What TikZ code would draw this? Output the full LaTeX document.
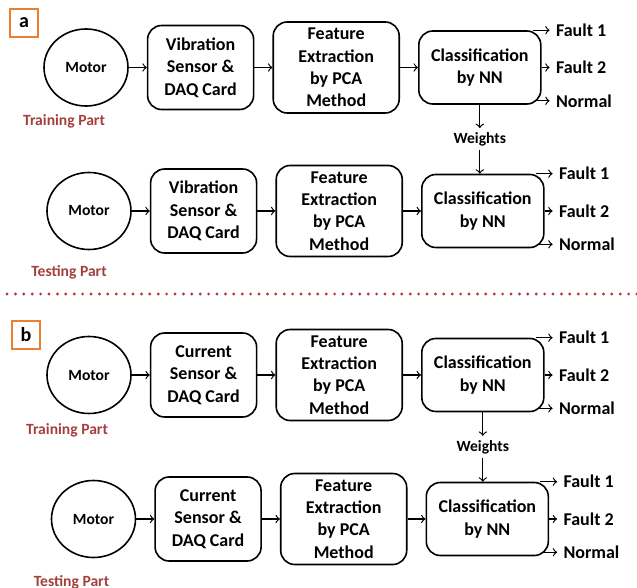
\documentclass[tikz,border=0pt]{standalone}
\usepackage{fontspec}
\setmainfont{Carlito}
\usepackage{xcolor}
\usetikzlibrary{shapes,arrows,positioning,calc}

\definecolor{partred}{HTML}{A3403D}
\definecolor{dotred}{HTML}{B03C3C}
\definecolor{tagorange}{HTML}{ED7D31}

\begin{document}
\begin{tikzpicture}[
        x=0.5pt, y=-0.5pt,
        node distance=9pt,
        font=\bfseries\fontsize{9}{11.2}\selectfont,
        motor/.style={ellipse, draw, line width=0.8pt, minimum width=42pt, minimum height=38.5pt, inner sep=0pt, font=\bfseries\fontsize{7.8}{9}\selectfont},
        block/.style={rectangle, draw, rounded corners=7pt, line width=0.8pt, minimum width=53pt, minimum height=42pt, align=center, inner sep=2pt},
        extract/.style={block, minimum width=63pt, minimum height=45.5pt},
        classify/.style={block, minimum width=61pt, minimum height=36.5pt},
        outlabel/.style={anchor=west, inner sep=3pt},
        weight/.style={font=\bfseries\fontsize{7.8}{9}\selectfont, inner sep=2pt},
        part/.style={text=partred, font=\bfseries\fontsize{7.8}{9}\selectfont},
        tag/.style={draw=tagorange, line width=1pt, minimum size=14pt, inner sep=0pt, font=\bfseries\fontsize{10}{12}\selectfont},
        arrow/.style={draw, -to, line width=0.6pt},
        sepline/.style={draw=dotred, line width=1.6pt, line cap=round, dash pattern=on 0pt off 4.2pt}
    ]

    \useasboundingbox (0,0) rectangle (637,588);

    % Panel a
    \node [tag] (taga) at (24,23) {a};

    % Training part (vibration)
    \node [motor] (motora) at (86,67.5) {Motor};
    \node [block, right=of motora] (sensa) {Vibration\\Sensor \&\\DAQ Card};
    \node [extract, right=of sensa] (feata) {Feature\\Extraction\\by PCA\\Method};
    \node [classify, right=of feata] (clsa) {Classification\\by NN};
    \node [part] (traina) at ([xshift=-11pt,yshift=-7.5pt]motora.south) {Training Part};
    \node [outlabel] (faulta1) at ([xshift=4pt]clsa.north east) {Fault 1};
    \node [outlabel] (faulta2) at ([xshift=4pt]clsa.east) {Fault 2};
    \node [outlabel] (normala) at ([xshift=4pt,yshift=2pt]clsa.south east) {Normal};

    % Testing part (vibration)
    \node [motor] (motorb) at (89,211) {Motor};
    \node [block, right=of motorb] (sensb) {Vibration\\Sensor \&\\DAQ Card};
    \node [extract, right=of sensb] (featb) {Feature\\Extraction\\by PCA\\Method};
    \node [classify, right=of featb] (clsb) {Classification\\by NN};
    \node [part] (testa) at ([xshift=-10pt,yshift=-11pt]motorb.south) {Testing Part};
    \node [outlabel] (faultb1) at ([xshift=4pt]clsb.north east) {Fault 1};
    \node [outlabel] (faultb2) at ([xshift=4pt]clsb.east) {Fault 2};
    \node [outlabel] (normalb) at ([xshift=4pt,yshift=2pt]clsb.south east) {Normal};

    \node [weight] (wgta) at ($(clsa.south)!0.5!(clsa.south |- clsb.north)$) {Weights};

    % Separator
    \coordinate (sepl) at (7,294);
    \coordinate (sepr) at (637,294);
    \path [sepline] (sepl) -- (sepr);

    % Panel b
    \node [tag] (tagb) at (26,335) {b};

    % Training part (current)
    \node [motor] (motorc) at (89,375) {Motor};
    \node [block, right=of motorc] (sensc) {Current\\Sensor \&\\DAQ Card};
    \node [extract, right=of sensc] (featc) {Feature\\Extraction\\by PCA\\Method};
    \node [classify, right=of featc] (clsc) {Classification\\by NN};
    \node [part] (trainb) at ([xshift=-11pt,yshift=-8pt]motorc.south) {Training Part};
    \node [outlabel] (faultc1) at ([xshift=4pt]clsc.north east) {Fault 1};
    \node [outlabel] (faultc2) at ([xshift=4pt]clsc.east) {Fault 2};
    \node [outlabel] (normalc) at ([xshift=4pt,yshift=2pt]clsc.south east) {Normal};

    % Testing part (current)
    \node [motor] (motord) at (93.5,519) {Motor};
    \node [block, right=of motord] (sensd) {Current\\Sensor \&\\DAQ Card};
    \node [extract, right=of sensd] (featd) {Feature\\Extraction\\by PCA\\Method};
    \node [classify, right=of featd] (clsd) {Classification\\by NN};
    \node [part] (testb) at ([xshift=-11pt,yshift=-12pt]motord.south) {Testing Part};
    \node [outlabel] (faultd1) at ([xshift=4pt]clsd.north east) {Fault 1};
    \node [outlabel] (faultd2) at ([xshift=4pt]clsd.east) {Fault 2};
    \node [outlabel] (normald) at ([xshift=4pt,yshift=2pt]clsd.south east) {Normal};

    \node [weight] (wgtb) at ($(clsc.south)!0.5!(clsc.south |- clsd.north)$) {Weights};

    % Main flow arrows
    \foreach \r in {a,b,c,d} {
        \path [arrow] (motor\r) -- (sens\r);
        \path [arrow] (sens\r) -- (feat\r);
        \path [arrow] (feat\r) -- (cls\r);
        \path [arrow] ([xshift=-4.5pt]cls\r.north east) -- (fault\r1.west);
        \path [arrow] (cls\r.east) -- (fault\r2.west);
        \path [arrow] ([xshift=-3.5pt]normal\r.west -| cls\r.east) -- (normal\r.west);
    }

    % Weights passed from training to testing
    \path [arrow] (clsa.south) -- (wgta.north);
    \path [arrow] (wgta.south) -- (wgta.south |- clsb.north);
    \path [arrow] (clsc.south) -- (wgtb.north);
    \path [arrow] (wgtb.south) -- (wgtb.south |- clsd.north);

\end{tikzpicture}
\end{document}
